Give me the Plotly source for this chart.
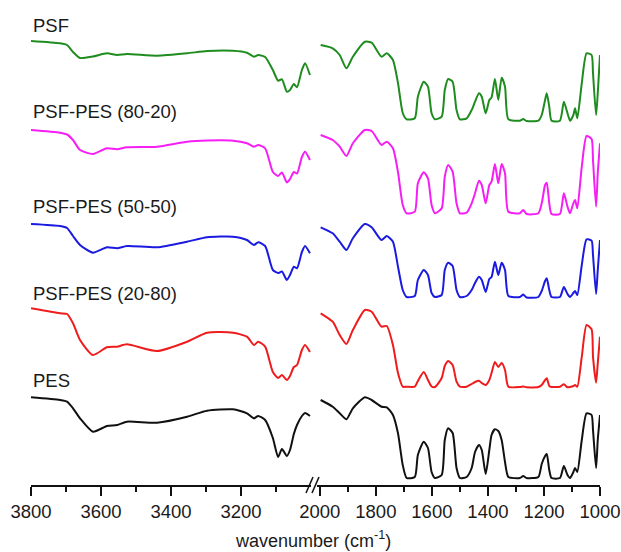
import plotly.graph_objects as go

# ---------------- data ----------------
# wavenumbers (cm^-1) of the sampled points, left panel (3800-3000) and right panel (2000-1000)
wn_left = [3800, 3717, 3697, 3680, 3660, 3623, 3583, 3554, 3526, 3440, 3354, 3297, 3223, 3183,
           3163, 3151, 3131, 3109, 3094, 3083, 3069, 3060, 3049, 3040, 3026, 3017, 3003]
wn_right = [1997, 1954, 1929, 1905, 1882, 1839, 1815, 1780, 1761, 1739, 1721, 1704, 1690, 1661,
            1650, 1629, 1614, 1601, 1589, 1565, 1554, 1542, 1526, 1512, 1500, 1476, 1458, 1446,
            1432, 1422, 1408, 1395, 1387, 1375, 1363, 1351, 1339, 1327, 1286, 1274, 1262, 1220,
            1208, 1196, 1190, 1181, 1173, 1143, 1129, 1116, 1107, 1095, 1089, 1081, 1065, 1048,
            1030, 1025, 1014, 1008, 1000]

# stacked spectra, arbitrary units (axis inverted: larger value = lower on the chart)
psf_left = [41, 43.3, 45, 52, 58, 56.5, 53.3, 55, 54, 55.7, 53.3, 51, 50.7, 52.7,
            56.7, 55, 57, 70, 80.7, 79.3, 91.7, 90, 84, 87.3, 70, 63.3, 75]
psf_right = [45, 48.3, 55, 68.3, 56.7, 41.7, 42.7, 56.7, 53.3, 60, 83, 113, 119.3, 118.3,
             96.7, 81.7, 86.7, 113.3, 119.3, 116.7, 90, 79, 81.7, 110, 119.3, 118.3, 110, 101.7,
             93.3, 96.7, 113.3, 100, 97.3, 79, 100, 77.7, 86.7, 119.3, 120.7, 119, 121, 120.7,
             115, 100, 93.3, 106.7, 120.7, 120.7, 101.7, 113.3, 120.7, 115, 108.3, 118.3, 83.3, 53.3,
             55, 73.3, 115, 93.3, 55]

p80_left = [130, 132.7, 134.5, 140, 150, 154, 148.3, 149.3, 147.3, 146.7, 141.7, 140.5, 140.7, 143.3,
            146.7, 145, 148.3, 172, 176, 172.5, 182.5, 179, 172, 173.5, 157, 151.7, 160]
p80_right = [135, 140, 146.7, 156, 143.3, 130, 131, 145, 141.7, 148.3, 172, 205, 213.3, 211.7,
             183.3, 172.3, 178.3, 205, 213.3, 208.3, 176.7, 165, 171.7, 203.3, 213.3, 212.7, 203.3, 193.3,
             180.7, 185, 203.3, 185, 181.7, 164, 183.3, 164, 173.3, 211.7, 213.3, 210, 214, 213.3,
             203.3, 185, 182.7, 203.3, 214, 214, 193.3, 206.7, 213.3, 203.3, 200, 208.3, 166.7, 136,
             139, 160, 206.7, 173.3, 143.3]

p50_left = [224, 226, 228, 236, 245, 252.7, 247.3, 248.3, 246, 247.3, 241.7, 237.3, 236.7, 240,
            245, 242.3, 246, 270, 273, 271.5, 280, 275, 266.7, 268.3, 252, 246, 253.3]
p50_right = [227.3, 233.3, 241.7, 250, 238.3, 224, 227.3, 240, 236, 241.7, 266.7, 290, 297, 296,
             280, 270, 275, 293, 297, 295, 270, 262.7, 266, 290, 297, 296, 290, 283,
             276.7, 280, 292, 279, 277, 261.7, 275, 262.7, 270, 296, 297, 294.5, 297.5, 297,
             291, 281, 278.3, 290, 297, 297, 287, 294, 297, 293, 291, 295, 265, 239.3,
             240.7, 255, 294, 270, 240]

p20_left = [308.3, 313.3, 314, 323.3, 340, 355, 347.3, 346.7, 344.3, 351, 341.7, 332.7, 332.7, 336.7,
            345, 341.7, 346.7, 372, 378, 375, 380, 376, 367, 365, 350, 345, 352]
p20_right = [313.3, 321.7, 335, 344, 330, 310, 311.7, 326.7, 326, 345, 373, 386.7, 386.7, 386.7,
             381, 372, 380, 386.5, 387, 378, 366, 361, 365, 381.7, 386.7, 386.7, 384, 382,
             380.7, 383, 385, 380, 373, 362, 367, 363, 370, 386.7, 387, 386.5, 387.3, 387,
             385, 380, 378.3, 386, 387, 386.7, 384.3, 387.3, 387, 386, 385, 386.7, 356.7, 325,
             329.3, 356.7, 382.7, 363.3, 336.7]

pes_left = [397.3, 400, 401.7, 408.3, 418.3, 431.7, 426, 425, 421.7, 422.7, 416.7, 410.7, 409.3, 413.3,
            418.3, 416, 420, 438, 457, 449, 456, 450, 434, 425, 416, 413, 416]
pes_right = [400, 406.7, 413.3, 419.3, 408.3, 397.3, 400, 406.7, 407.3, 415, 433.3, 465, 478, 477,
             455, 441.7, 448, 472, 478, 475, 440, 428.3, 433, 468, 478, 477, 468, 452,
             445, 450, 474, 450, 435, 429.3, 431, 440, 462, 477, 478, 476, 478, 477,
             464, 456, 454, 470, 478, 478, 466, 475, 478, 472, 468, 472, 440, 413.3,
             415, 430, 468, 440, 415]

names = ["PSF", "PSF-PES (80-20)", "PSF-PES (50-50)", "PSF-PES (20-80)", "PES"]
left_series = [psf_left, p80_left, p50_left, p20_left, pes_left]
right_series = [psf_right, p80_right, p50_right, p20_right, pes_right]

left_ticks = [3800, 3600, 3400, 3200]
left_minor = [3700, 3500, 3300, 3100]
right_ticks = [2000, 1800, 1600, 1400, 1200, 1000]
right_minor = [1900, 1700, 1500, 1300, 1100]

# ---------------- styling / layout ----------------
colors = ["#1e8c1e", "#f51ef5", "#1a1ae0", "#ee1c1c", "#111111"]
label_y = [25, 111, 206, 293, 380]
FONT = "Arial, Liberation Sans, sans-serif"
TXT = "#1a1a1a"

W, H = 621, 552
ML, MR, MT, MB = 31, 21, 0, 67
PW = W - ML - MR
PH = H - MT - MB


def px(x):
    return (x - ML) / PW


def py(y):
    return (PH - y) / PH


fig = go.Figure()
for name, L, R, c in zip(names, left_series, right_series, colors):
    fig.add_trace(go.Scatter(x=wn_left, y=L, xaxis="x", yaxis="y", mode="lines", name=name,
                             line=dict(color=c, width=2, shape="spline", smoothing=0.6),
                             showlegend=False, hoverinfo="skip"))
    fig.add_trace(go.Scatter(x=wn_right, y=R, xaxis="x2", yaxis="y", mode="lines", name=name,
                             line=dict(color=c, width=2, shape="spline", smoothing=0.6),
                             showlegend=False, hoverinfo="skip"))

axis_style = dict(showline=True, linecolor="#111", linewidth=1.5, ticks="outside", ticklen=9,
                  tickwidth=1.5, tickcolor="#111", showgrid=False, zeroline=False,
                  tickfont=dict(family=FONT, size=18.5, color=TXT), anchor="y", fixedrange=True,
                  automargin=False)

fig.update_layout(
    width=W, height=H,
    margin=dict(l=ML, r=MR, t=MT, b=MB),
    paper_bgcolor="white", plot_bgcolor="white",
    xaxis=dict(domain=[0, px(311)], range=[3800, 3000], tickmode="array", tickvals=left_ticks,
               ticktext=[str(v) for v in left_ticks],
               minor=dict(tickmode="array", tickvals=left_minor, ticks="outside", ticklen=5,
                          tickwidth=1.5, tickcolor="#111", showgrid=False),
               **axis_style),
    xaxis2=dict(domain=[px(317), 1], range=[2010, 1000], tickmode="array", tickvals=right_ticks,
                ticktext=[str(v) for v in right_ticks],
                minor=dict(tickmode="array", tickvals=right_minor, ticks="outside", ticklen=5,
                           tickwidth=1.5, tickcolor="#111", showgrid=False),
                **axis_style),
    yaxis=dict(range=[PH, 0], visible=False, showgrid=False, zeroline=False, fixedrange=True),
)

for name, ly in zip(names, label_y):
    fig.add_annotation(text=name, xref="paper", yref="y", x=0, y=ly, xanchor="left",
                       yanchor="middle", showarrow=False,
                       font=dict(family=FONT, size=18.5, color=TXT))

fig.add_annotation(text="wavenumber (cm<sup>-1</sup>)", xref="paper", yref="paper",
                   x=px(313), y=py(539), xanchor="center", yanchor="middle", showarrow=False,
                   font=dict(family=FONT, size=18, color=TXT))

# axis-break marks
for x0 in (306, 312):
    fig.add_shape(type="line", xref="paper", yref="paper", x0=px(x0), y0=py(493),
                  x1=px(x0 + 7), y1=py(477), line=dict(color="#111", width=1.5))

fig.write_html("out.html", config={"displayModeBar": False},
               post_script="document.body.style.margin='0';document.body.style.overflow='hidden';")
